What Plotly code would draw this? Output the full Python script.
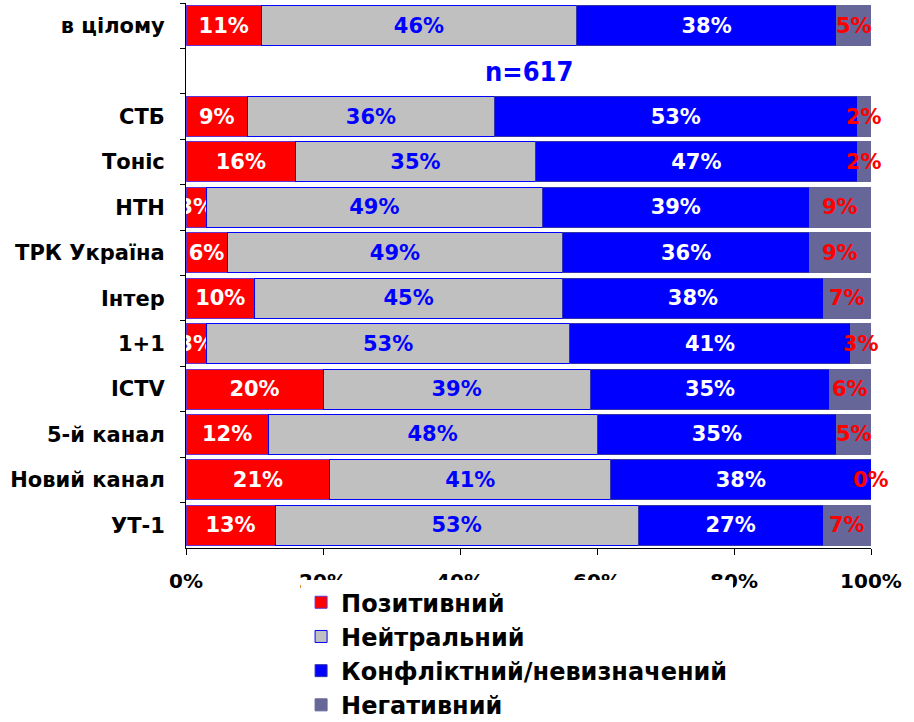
import plotly.graph_objects as go

categories = ["в цілому", " ", "СТБ", "Тоніс", "НТН", "ТРК Україна", "Інтер",
              "1+1", "ICTV", "5-й канал", "Новий канал", "УТ-1"]
positive = [11, None, 9, 16, 3, 6, 10, 3, 20, 12, 21, 13]
neutral = [46, None, 36, 35, 49, 49, 45, 53, 39, 48, 41, 53]
conflict = [38, None, 53, 47, 39, 36, 38, 41, 35, 35, 38, 27]
negative = [5, None, 2, 2, 9, 9, 7, 3, 6, 5, 0, 7]
series_names = ["Позитивний", "Нейтральний", "Конфліктний/невизначений", "Негативний"]
sample_note = "n=617"
x_ticks = [0, 20, 40, 60, 80, 100]

FONT = "DejaVu Sans"
BAR_FONT_SIZE = 21

def labels(vals):
    return [("" if v is None else f"{v}%") for v in vals]

fig = go.Figure()
specs = [
    (positive, "#FF0000", "#6633CC", "white", True),
    (neutral, "#C0C0C0", "#0000FF", "#0000FF", True),
    (conflict, "#0000FF", "#3333AA", "white", True),
    (negative, "#666699", "#666699", "#FF0000", False),
]
for (vals, color, lcol, tcol, show_text), name in zip(specs, series_names):
    fig.add_trace(go.Bar(
        y=categories, x=vals, name=name, orientation="h",
        marker=dict(color=color, line=dict(color=lcol, width=1)),
        text=labels(vals) if show_text else None,
        textposition="inside" if show_text else "none",
        insidetextanchor="middle",
        textangle=0, constraintext="none",
        textfont=dict(family=FONT, size=BAR_FONT_SIZE, color=tcol, weight="bold"),
        legendgroup=name,
    ))

# negative-share labels (centered on their segment, also for zero-width segments)
for cat, p, n, c, g in zip(categories, positive, neutral, conflict, negative):
    if g is None:
        continue
    fig.add_annotation(x=p + n + c + g / 2, y=cat, xref="x", yref="y", text=f"{g}%",
                       showarrow=False,
                       font=dict(family=FONT, size=BAR_FONT_SIZE, color="#FF0000", weight="bold"))

fig.add_annotation(x=50, y=" ", xref="x", yref="y", text=sample_note, showarrow=False,
                   font=dict(family="DejaVu Sans Condensed", size=27, color="#0000FF", weight="bold"))

fig.update_layout(
    barmode="stack", bargap=0.12,
    width=914, height=722,
    margin=dict(l=186, r=43, t=3, b=174, autoexpand=False),
    paper_bgcolor="white", plot_bgcolor="white",
    uniformtext=dict(minsize=BAR_FONT_SIZE, mode="show"),
    showlegend=True,
    legend=dict(x=0.168, y=-0.059, xanchor="left", yanchor="top",
                bgcolor="white", traceorder="normal", tracegroupgap=7,
                font=dict(family=FONT, size=24, color="black", weight="bold"),
                itemwidth=30),
)
fig.update_xaxes(range=[0, 100], tickvals=x_ticks, ticktext=[f"{v}%" for v in x_ticks],
                 showgrid=False, showline=True, linecolor="black", linewidth=1,
                 ticks="outside", ticklen=6, tickcolor="black", ticklabelstandoff=9,
                 tickfont=dict(family=FONT, size=20, color="black", weight="bold"),
                 zeroline=False, fixedrange=True)
fig.update_yaxes(categoryorder="array", categoryarray=categories, autorange="reversed",
                 showgrid=False, showline=True, linecolor="black", linewidth=1,
                 ticks="outside", ticklen=5, tickcolor="black", tickson="boundaries",
                 ticklabelstandoff=16,
                 tickfont=dict(family=FONT, size=21, color="black", weight="bold"))

fig.write_html("out.html", config={"displayModeBar": False},
               post_script="document.body.style.margin='0';")
